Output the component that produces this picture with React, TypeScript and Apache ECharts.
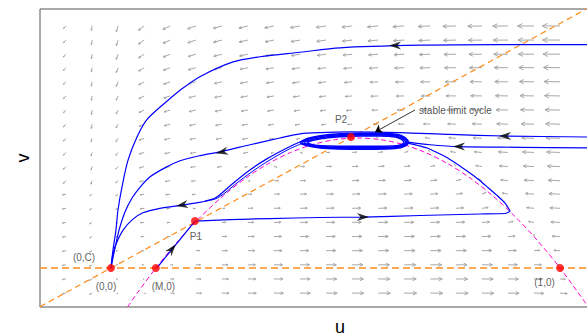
import React, { useEffect, useRef } from "react";
import * as echarts from "echarts";

const FONT = "'Liberation Sans', Arial, Helvetica, sans-serif";

// axis extents (u horizontal, v vertical)
const uRange = [-0.158, 1.178];
const vRange = [-0.0607, 0.4034];

// vector field grid
const fieldU = [-0.1, -0.042, 0.016, 0.074, 0.132, 0.189, 0.247, 0.305, 0.363, 0.421, 0.479, 0.537, 0.595, 0.653, 0.711, 0.768, 0.826, 0.884, 0.942, 1.0];
const fieldV = [-0.039, -0.017, 0.005, 0.027, 0.049, 0.071, 0.093, 0.115, 0.136, 0.158, 0.18, 0.202, 0.224, 0.246, 0.268, 0.29, 0.312, 0.333, 0.355, 0.377];

// horizontal components (rows bottom -> top)
const fieldFx = [
  [-3,-1.5,-0.3,0.5,4.0,9.4,16.6,24.8,33.7,42.5,50.8,58.1,63.9,67.7,68.9,66.9,61.2,51.6,37.2,17.5],
  [-3,-1.5,-0.5,-0.2,2.7,7.6,14.2,21.8,30.2,38.4,46.0,52.8,58.0,61.3,61.9,59.3,53.0,42.9,27.9,7.6],
  [-3,-1.5,-0.6,-1.0,1.4,5.7,11.8,18.8,26.6,34.2,41.3,47.5,52.1,54.8,54.9,51.7,44.9,34.1,18.6,-2.2],
  [-3,-1.5,-0.8,-1.7,0.1,3.8,9.3,15.7,23.0,30.1,36.6,42.2,46.2,48.4,47.9,44.1,36.7,25.4,9.3,-12.1],
  [-3,-1.5,-1.0,-2.4,-1.2,2.0,6.9,12.7,19.4,25.9,31.8,36.9,40.3,41.9,40.9,36.5,28.6,16.7,0,-22.0],
  [-3,-1.5,-1.1,-3.2,-2.5,0.1,4.4,9.7,15.8,21.7,27.1,31.6,34.5,35.5,33.8,29.0,20.4,7.9,-9.3,-31.9],
  [-3,-1.3,-1.3,-3.9,-3.9,-1.8,2.0,6.7,12.2,17.6,22.4,26.3,28.6,29.0,26.8,21.4,12.2,-0.8,-18.6,-41.8],
  [-3,-1.2,-1.4,-4.6,-5.2,-3.7,-0.4,3.7,8.6,13.4,17.6,21.0,22.7,22.6,19.8,13.8,4.1,-9.5,-27.9,-51.6],
  [-2.5,-1.0,-1.6,-5.3,-6.4,-5.4,-2.8,0.8,5.2,9.5,13.1,15.9,17.1,16.4,13.1,6.6,-3.7,-17.9,-36.8,-61.1],
  [-2.5,-0.9,-1.7,-6.0,-7.7,-7.3,-5.2,-2.2,1.6,5.3,8.4,10.6,11.2,10.0,6.1,-1.0,-11.9,-26.6,-46.1,-70.9],
  [-2.5,-0.9,-1.9,-6.8,-9.0,-9.2,-7.7,-5.2,-2.0,1.1,3.7,5.3,5.3,3.5,-1.0,-8.6,-20.0,-35.3,-55.4,-80.8],
  [-2.5,-0.8,-2.1,-7.5,-10.3,-11.0,-10.1,-8.2,-5.5,-3.0,-1.1,0,-0.5,-2.9,-8.0,-16.2,-28.2,-44.1,-64.7,-90.7],
  [-2.5,-0.8,-2.2,-8.2,-11.6,-12.9,-12.5,-11.2,-9.1,-7.2,-5.8,-5.3,-6.4,-9.4,-15.0,-23.8,-36.3,-52.8,-74.0,-100.6],
  [-2.5,-0.8,-2.4,-9.0,-12.9,-14.8,-15.0,-14.2,-12.7,-11.3,-10.5,-10.6,-12.3,-15.8,-22.0,-31.4,-44.5,-61.5,-83.3,-110.5],
  [-2.5,-0.8,-2.5,-9.7,-14.2,-16.6,-17.4,-17.2,-16.3,-15.5,-15.3,-15.9,-18.2,-22.3,-29.0,-39.0,-52.7,-70.3,-92.6,-120.3],
  [-2.5,-0.8,-2.7,-10.4,-15.5,-18.5,-19.9,-20.3,-19.9,-19.7,-20.0,-21.2,-24.0,-28.7,-36.1,-46.5,-60.8,-79.0,-101.9,-130.2],
  [-2.5,-0.8,-2.8,-11.2,-16.8,-20.4,-22.3,-23.3,-23.5,-23.8,-24.7,-26.5,-29.9,-35.2,-43.1,-54.1,-69.0,-87.7,-111.2,-140.1],
  [-2.5,-0.8,-3.0,-11.9,-18.1,-22.2,-24.6,-26.1,-26.9,-27.8,-29.3,-31.6,-35.5,-41.3,-49.8,-61.4,-76.8,-96.1,-120.1,-149.5],
  [-2.5,-0.8,-3.2,-12.6,-19.4,-24.0,-27.1,-29.2,-30.5,-31.9,-34.0,-36.9,-41.4,-47.8,-56.8,-69.0,-84.9,-104.8,-129.4,-159.4],
  [-2.5,-0.8,-3.3,-13.3,-20.7,-25.9,-29.5,-32.2,-34.1,-36.1,-38.7,-42.2,-47.3,-54.2,-63.8,-76.5,-93.1,-113.5,-138.7,-169.3],
];

// vertical components (rows bottom -> top)
const fieldFy = [
  [-0.5,-0.8,-0.13,-0.2,-0.26,-0.33,-0.4,-0.46,-0.53,-0.59,-0.66,-0.73,-0.79,-0.86,-0.92,-0.99,-1.06,-1.12,-1.19,-1.25],
  [-0.5,-0.8,-0.03,-0.06,-0.09,-0.12,-0.15,-0.17,-0.2,-0.23,-0.26,-0.29,-0.32,-0.35,-0.38,-0.41,-0.44,-0.46,-0.49,-0.52],
  [-0.5,-0.8,0,0.01,0.02,0.03,0.03,0.04,0.05,0.06,0.07,0.08,0.09,0.09,0.1,0.11,0.12,0.13,0.14,0.14],
  [-0.5,-0.8,-0.05,0,0.05,0.09,0.14,0.18,0.23,0.28,0.32,0.37,0.41,0.46,0.51,0.55,0.6,0.64,0.69,0.74],
  [-0.5,-0.8,-0.17,-0.08,0,0.08,0.17,0.25,0.33,0.42,0.5,0.58,0.66,0.75,0.83,0.91,1.0,1.08,1.16,1.25],
  [-0.5,-0.8,-0.36,-0.24,-0.12,0,0.12,0.24,0.36,0.48,0.6,0.72,0.84,0.96,1.08,1.2,1.32,1.44,1.56,1.68],
  [-0.5,-0.8,-0.63,-0.47,-0.32,-0.16,0,0.16,0.32,0.47,0.63,0.79,0.95,1.1,1.26,1.42,1.58,1.74,1.9,2.05],
  [-0.5,-0.8,-0.98,-0.78,-0.59,-0.39,-0.2,0,0.2,0.39,0.59,0.78,0.98,1.17,1.37,1.56,1.76,1.95,2.15,2.34],
  [-2.5,-3,-1.38,-1.15,-0.92,-0.69,-0.46,-0.23,0,0.23,0.46,0.69,0.92,1.15,1.38,1.61,1.84,2.07,2.3,2.53],
  [-2.5,-3,-1.88,-1.61,-1.34,-1.07,-0.8,-0.54,-0.27,0,0.27,0.54,0.8,1.07,1.34,1.61,1.88,2.14,2.41,2.68],
  [-2.5,-3,-2.44,-2.14,-1.83,-1.53,-1.22,-0.92,-0.61,-0.31,0,0.31,0.61,0.92,1.22,1.53,1.83,2.14,2.44,2.75],
  [-2.5,-3,-3.08,-2.74,-2.39,-2.05,-1.71,-1.37,-1.03,-0.68,-0.34,0,0.34,0.68,1.03,1.37,1.71,2.05,2.39,2.74],
  [-2.5,-5,-3.79,-3.41,-3.03,-2.65,-2.27,-1.9,-1.52,-1.14,-0.76,-0.38,0,0.38,0.76,1.14,1.52,1.9,2.27,2.65],
  [-2.5,-5,-4.59,-4.17,-3.75,-3.34,-2.92,-2.5,-2.09,-1.67,-1.25,-0.83,-0.42,0,0.42,0.83,1.25,1.67,2.09,2.5],
  [-2.5,-5,-5.45,-5.0,-4.54,-4.09,-3.63,-3.18,-2.72,-2.27,-1.82,-1.36,-0.91,-0.45,0,0.45,0.91,1.36,1.82,2.27],
  [-2.5,-5,-6.38,-5.89,-5.4,-4.91,-4.42,-3.93,-3.44,-2.95,-2.46,-1.96,-1.47,-0.98,-0.49,0,0.49,0.98,1.47,1.96],
  [-2.5,-5,-7.41,-6.88,-6.35,-5.82,-5.29,-4.76,-4.23,-3.7,-3.17,-2.65,-2.12,-1.59,-1.06,-0.53,0,0.53,1.06,1.59],
  [-2.5,-5,-8.46,-7.9,-7.33,-6.77,-6.2,-5.64,-5.08,-4.51,-3.95,-3.38,-2.82,-2.26,-1.69,-1.13,-0.56,0,0.56,1.13],
  [-2.5,-5,-9.62,-9.02,-8.41,-7.81,-7.21,-6.61,-6.01,-5.41,-4.81,-4.21,-3.61,-3.0,-2.4,-1.8,-1.2,-0.6,0,0.6],
  [-2.5,-5,-10.86,-10.22,-9.59,-8.95,-8.31,-7.67,-7.03,-6.39,-5.75,-5.11,-4.47,-3.83,-3.19,-2.56,-1.92,-1.28,-0.64,0],
];

// nullclines
const vZero = [[-0.158, 0], [1.178, 0]];
const diagonal = [[-0.158, -0.0602], [1.06, 0.4039]];
const parabola = [
  [0.037, -0.0607], [0.06, -0.0376], [0.1, 0], [0.15, 0.0425], [0.2, 0.08], [0.25, 0.1125], [0.3, 0.14],
  [0.35, 0.1625], [0.4, 0.18], [0.45, 0.1925], [0.5, 0.2], [0.55, 0.2025], [0.6, 0.2], [0.65, 0.1925],
  [0.7, 0.18], [0.75, 0.1625], [0.8, 0.14], [0.85, 0.1125], [0.9, 0.08], [0.95, 0.0425], [1.0, 0], [1.063, -0.0607],
];

// trajectories
const traj1 = [[1.067,0.348],[0.866,0.348],[0.688,0.347],[0.51,0.343],[0.421,0.336],[0.332,0.329],[0.272,0.321],[0.198,0.298],[0.154,0.277],[0.12,0.257],[0.08,0.231],[0.058,0.204],[0.038,0.168],[0.0245,0.126],[0.0156,0.09],[0.0111,0.059],[0.0045,0.028],[0,0]];
const traj2 = [[1.067,0.204],[0.8775,0.2056],[0.755,0.208],[0.644,0.211],[0.532,0.212],[0.4655,0.211],[0.421,0.209],[0.376,0.2025],[0.31,0.192],[0.243,0.181],[0.198,0.175],[0.154,0.167],[0.12,0.156],[0.087,0.142],[0.065,0.126],[0.047,0.109],[0.031,0.087],[0.018,0.059],[0.009,0.031],[0,0]];
const traj3 = [[1.067,0.187],[0.911,0.188],[0.775,0.189],[0.7105,0.192],[0.662,0.196]];
const traj4 = [[0.102,0.0],[0.145,0.037],[0.187,0.073]];
const traj5 = [[0.4254,0.1978],[0.392,0.187],[0.347,0.17],[0.31,0.153],[0.272,0.132],[0.249,0.118],[0.232,0.109],[0.209,0.104],[0.187,0.101],[0.158,0.098],[0.109,0.093],[0.071,0.086],[0.047,0.075],[0.027,0.059],[0.013,0.04],[0.0045,0.022],[0,0]];
const traj5b = [[0.4276,0.1947],[0.396,0.185],[0.352,0.1675],[0.314,0.15],[0.276,0.13],[0.254,0.117],[0.234,0.108],[0.209,0.104]];
const traj6 = [[0.187,0.073],[0.265,0.0755],[0.354,0.077],[0.4655,0.0787],[0.561,0.0794],[0.688,0.0818],[0.822,0.0841],[0.8775,0.0849],[0.8886,0.0885],[0.8775,0.101],[0.86,0.113],[0.84,0.125],[0.822,0.136],[0.793,0.151],[0.748,0.172],[0.704,0.187],[0.659,0.195]];

// limit cycle loops (outer to inner)
const cycle1 = [[0.421,0.196],[0.439,0.202],[0.466,0.206],[0.51,0.209],[0.555,0.21],[0.599,0.21],[0.639,0.208],[0.655,0.203],[0.662,0.196],[0.655,0.19],[0.633,0.186],[0.588,0.185],[0.532,0.185],[0.483,0.186],[0.448,0.189],[0.425,0.193],[0.421,0.196]];
const cycle2 = [[0.425,0.196],[0.441,0.2008],[0.468,0.2047],[0.511,0.2075],[0.555,0.2085],[0.599,0.2085],[0.637,0.2067],[0.652,0.2022],[0.659,0.196],[0.652,0.1908],[0.631,0.1873],[0.588,0.1865],[0.532,0.1865],[0.484,0.1873],[0.45,0.1898],[0.428,0.1935],[0.425,0.196]];
const cycle3 = [[0.43,0.196],[0.444,0.1996],[0.47,0.2034],[0.512,0.206],[0.555,0.207],[0.599,0.207],[0.635,0.2054],[0.649,0.2014],[0.656,0.196],[0.649,0.1915],[0.629,0.1886],[0.588,0.188],[0.532,0.188],[0.485,0.1886],[0.452,0.1906],[0.432,0.194],[0.43,0.196]];
const cycle4 = [[0.4365,0.196],[0.448,0.1985],[0.473,0.2021],[0.513,0.2045],[0.555,0.2055],[0.599,0.2055],[0.633,0.2041],[0.646,0.2006],[0.652,0.196],[0.646,0.1922],[0.627,0.1899],[0.588,0.1895],[0.532,0.1895],[0.486,0.1899],[0.455,0.1914],[0.438,0.1945],[0.4365,0.196]];

// arrowheads on trajectories: [u, v, direction in degrees]
const arrowHeads = [
  [0.6325, 0.3466, 180],
  [0.8775, 0.2056, 180],
  [0.775, 0.1893, 180],
  [0.2472, 0.1807, 192],
  [0.1581, 0.0981, 190],
  [0.1359, 0.0296, 51],
  [0.5612, 0.0794, 0],
];

// equilibria
const equilibria = [[0, 0], [0.1, 0], [0.187, 0.0732], [0.5345, 0.204], [1, 0]];

// point labels
const pointLabels = [
  { name: "(0,C)", value: [-0.06, 0.0171] },
  { name: "(0,0)", value: [-0.0111, -0.028] },
  { name: "(M,0)", value: [0.1169, -0.028] },
  { name: "(1,0)", value: [0.9655, -0.0226] },
  { name: "P1", value: [0.189, 0.0498] },
  { name: "P2", value: [0.5122, 0.232] },
];
const cycleLabel = { name: "stable limit cycle", value: [0.686, 0.2453] };
const cyclePointer = [[0.677, 0.2461], [0.588, 0.2118]];

const ARROW_PATH = "path://M12,4L0,0L3.5,4L0,8Z";

function blueLine(data: number[][], smooth: number, width = 1.2) {
  return {
    type: "line",
    data,
    showSymbol: false,
    symbol: "none",
    smooth,
    lineStyle: { color: "#0000ff", width },
    z: 3,
    silent: true,
  };
}

export default function App() {
  const ref = useRef<HTMLDivElement>(null);
  useEffect(() => {
    if (!ref.current) return;
    const chart = echarts.init(ref.current, undefined, { renderer: "svg" });

    const field: number[][] = [];
    for (let j = 0; j < fieldV.length; j++) {
      for (let i = 0; i < fieldU.length; i++) {
        field.push([fieldU[i], fieldV[j], fieldFx[j][i], fieldFy[j][i]]);
      }
    }

    const option: any = {
      animation: false,
      backgroundColor: "#ffffff",
      grid: {
        left: 40,
        top: 9,
        width: 600,
        height: 298,
        outerBoundsMode: "none",
        containLabel: false,
        show: true,
        borderColor: "#555555",
        borderWidth: 1,
        backgroundColor: "transparent",
      },
      xAxis: {
        type: "value",
        min: uRange[0],
        max: uRange[1],
        name: "u",
        nameLocation: "middle",
        nameGap: 12,
        nameTextStyle: { fontSize: 18, lineHeight: 16, color: "#000", fontFamily: FONT },
        axisLine: { show: false },
        axisTick: { show: false },
        axisLabel: { show: false },
        splitLine: { show: false },
      },
      yAxis: {
        type: "value",
        min: vRange[0],
        max: vRange[1],
        name: "v",
        nameLocation: "middle",
        nameRotate: 90,
        nameGap: 8,
        nameTextStyle: { fontSize: 18, color: "#000", fontFamily: FONT },
        axisLine: { show: false },
        axisTick: { show: false },
        axisLabel: { show: false },
        splitLine: { show: false },
      },
      series: [
        {
          type: "custom",
          data: field,
          encode: { x: 0, y: 1 },
          z: 1,
          silent: true,
          renderItem: (params: any, api: any) => {
            const u = api.value(0);
            const v = api.value(1);
            const fx = api.value(2);
            const fy = api.value(3);
            const m = Math.hypot(fx, fy);
            if (m < 1e-6) return { type: "group", children: [] };
            const p = api.coord([u, v]);
            const L = Math.min(2.3 * Math.pow(m, 0.4), 18);
            const dx = (fx / m) * L;
            const dy = (-fy / m) * L;
            const ex = p[0] + dx;
            const ey = p[1] + dy;
            const ang = Math.atan2(dy, dx);
            const h = L * 0.33;
            const a1 = ang + Math.PI - 0.45;
            const a2 = ang + Math.PI + 0.45;
            const st = { stroke: "#a8a8a8", lineWidth: 1, fill: "none" };
            return {
              type: "group",
              children: [
                { type: "line", shape: { x1: p[0], y1: p[1], x2: ex, y2: ey }, style: st },
                {
                  type: "polyline",
                  shape: {
                    points: [
                      [ex + h * Math.cos(a1), ey + h * Math.sin(a1)],
                      [ex, ey],
                      [ex + h * Math.cos(a2), ey + h * Math.sin(a2)],
                    ],
                  },
                  style: st,
                },
              ],
            };
          },
        },
        {
          type: "line",
          data: vZero,
          showSymbol: false,
          symbol: "none",
          lineStyle: { color: "#ff8c1a", width: 1.3, type: [7, 4] },
          z: 2,
          silent: true,
        },
        {
          type: "line",
          data: diagonal,
          showSymbol: false,
          symbol: "none",
          lineStyle: { color: "#ff8c1a", width: 1.2, type: [6, 4] },
          z: 2,
          silent: true,
        },
        {
          type: "line",
          data: parabola,
          showSymbol: false,
          symbol: "none",
          smooth: 0.3,
          lineStyle: { color: "#ff00cc", width: 1, type: [5, 3] },
          z: 2,
          silent: true,
        },
        blueLine(traj1, 0.3),
        blueLine(traj2, 0.3),
        blueLine(traj3, 0.3),
        blueLine(traj4, 0),
        blueLine(traj5, 0.3),
        blueLine(traj5b, 0.3, 1),
        blueLine(traj6, 0.15),
        blueLine(cycle1, 0.4, 1.5),
        blueLine(cycle2, 0.4, 1.5),
        blueLine(cycle3, 0.4, 1.5),
        blueLine(cycle4, 0.4, 1.5),
        {
          type: "lines",
          coordinateSystem: "cartesian2d",
          data: [{ coords: cyclePointer }],
          symbol: ["none", "arrow"],
          symbolSize: 7,
          lineStyle: { color: "#000", width: 0.8, opacity: 1 },
          z: 4,
          silent: true,
        },
        {
          type: "scatter",
          data: arrowHeads.map((a) => ({ value: [a[0], a[1]], symbolRotate: a[2] })),
          symbol: ARROW_PATH,
          symbolSize: [12, 8],
          itemStyle: { color: "#000" },
          z: 5,
          silent: true,
        },
        {
          type: "scatter",
          data: equilibria,
          symbol: "circle",
          symbolSize: 8,
          itemStyle: { color: "#ff0000" },
          z: 6,
          silent: true,
        },
        {
          type: "scatter",
          data: pointLabels,
          symbolSize: 0,
          itemStyle: { color: "transparent" },
          label: {
            show: true,
            position: "inside",
            formatter: "{b}",
            color: "#333",
            fontSize: 10,
            fontFamily: FONT,
          },
          z: 7,
          silent: true,
        },
        {
          type: "scatter",
          data: [cycleLabel],
          symbolSize: 0,
          itemStyle: { color: "transparent" },
          label: {
            show: true,
            position: "right",
            distance: 0,
            formatter: "{b}",
            color: "#222",
            fontSize: 10,
            fontFamily: FONT,
          },
          z: 7,
          silent: true,
        },
      ],
    };
    chart.setOption(option);
    return () => chart.dispose();
  }, []);

  return (
    <div
      ref={ref}
      style={{ position: "fixed", left: 0, top: 0, width: 587, height: 336, background: "#fff" }}
    />
  );
}
